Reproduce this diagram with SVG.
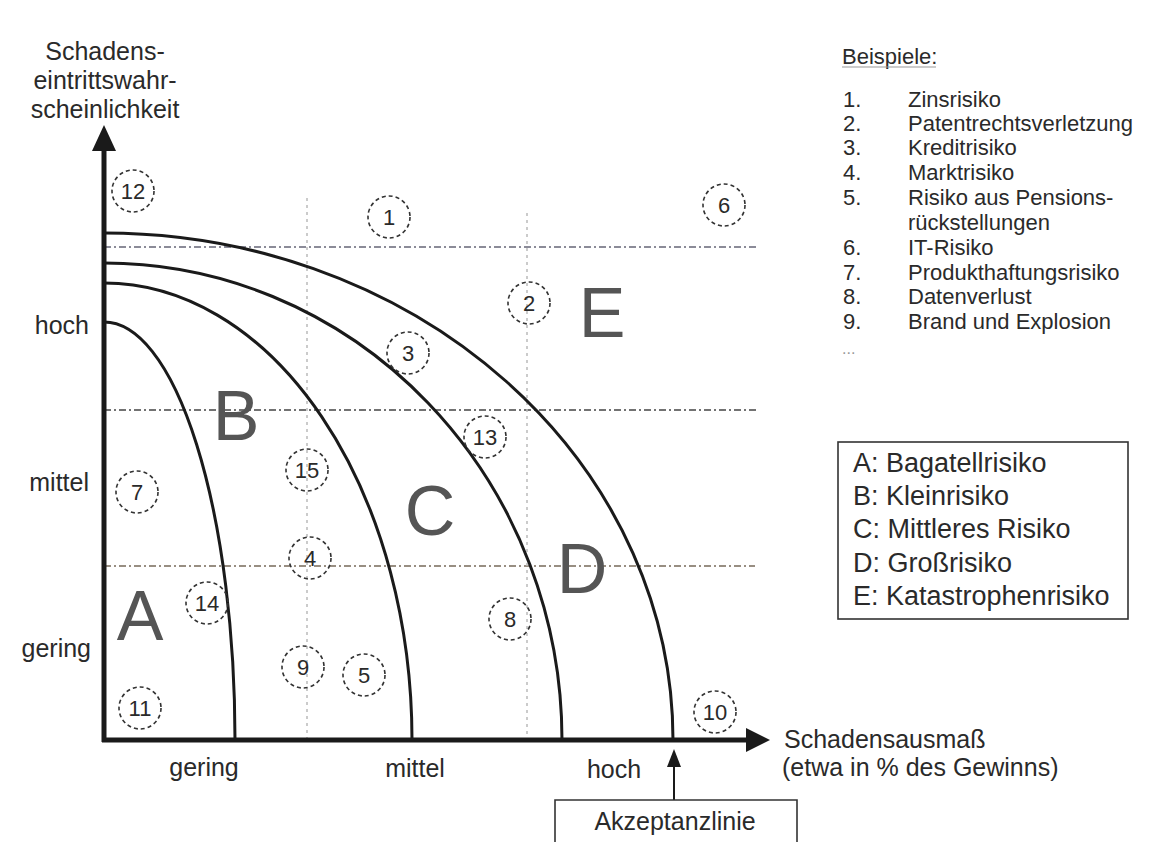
<svg xmlns="http://www.w3.org/2000/svg" width="1164" height="842" viewBox="0 0 1164 842">
<style>
text{font-family:"Liberation Sans",Arial,sans-serif;fill:#2a2a2a}
.lbl{font-size:25px}
.lst{font-size:22px}
.leg{font-size:27px}
.big{font-size:70px;fill:#555;text-anchor:middle}
.num{font-size:22px;text-anchor:middle}
.ring{fill:none;stroke:#333;stroke-width:1.6;stroke-dasharray:4 3}
.curve{fill:none;stroke:#1a1a1a;stroke-width:3}
.axis{stroke:#1a1a1a;stroke-width:5;fill:none}
.grid{stroke:#777;stroke-width:1.6;stroke-dasharray:7 3 2 3;fill:none}
.vgrid{stroke:#bbb;stroke-width:1.5;stroke-dasharray:3 4;fill:none}
</style>
<rect width="1164" height="842" fill="#fff"/>

<g id="grid">
<line class="grid" x1="104" y1="247" x2="757" y2="247" style="stroke:#667"/>
<line class="grid" x1="104" y1="410" x2="757" y2="410" style="stroke:#444"/>
<line class="grid" x1="104" y1="566" x2="755" y2="566" style="stroke:#776a5a"/>
<line class="vgrid" x1="307" y1="198" x2="307" y2="740"/>
<line class="vgrid" x1="527" y1="213" x2="527" y2="740"/>
</g>

<g id="curves">
<path class="curve" d="M104,322 A131,418 0 0 1 235,740"/>
<path class="curve" d="M104,283 A308,457 0 0 1 412,740"/>
<path class="curve" d="M104,263 A458,477 0 0 1 562,740"/>
<path class="curve" d="M104,233 A569,507 0 0 1 673,740"/>
</g>

<g id="connectors">
<line class="axis" x1="104" y1="742" x2="104" y2="150"/>
<path d="M104,125 L116,151 L92,151 Z" fill="#1a1a1a"/>
<line class="axis" x1="102" y1="740" x2="748" y2="740"/>
<path d="M770,740 L746,728 L746,752 Z" fill="#1a1a1a"/>
<line x1="674" y1="800" x2="674" y2="765" stroke="#1a1a1a" stroke-width="2"/>
<path d="M674,749 L681,767 L667,767 Z" fill="#1a1a1a"/>
</g>

<g id="ytitle">
<text class="lbl" x="105" y="60" text-anchor="middle">Schadens-</text>
<text class="lbl" x="105" y="89" text-anchor="middle">eintrittswahr-</text>
<text class="lbl" x="105" y="118" text-anchor="middle">scheinlichkeit</text>
</g>
<g id="ylabels">
<text class="lbl" x="89" y="334" text-anchor="end">hoch</text>
<text class="lbl" x="89" y="491" text-anchor="end">mittel</text>
<text class="lbl" x="91" y="657" text-anchor="end">gering</text>
</g>
<g id="xlabels">
<text class="lbl" x="204" y="776" text-anchor="middle">gering</text>
<text class="lbl" x="415" y="777" text-anchor="middle">mittel</text>
<text class="lbl" x="614" y="778" text-anchor="middle">hoch</text>
</g>
<g id="xtitle">
<text class="lbl" x="784" y="748">Schadensausmaß</text>
<text class="lbl" x="782" y="776">(etwa in % des Gewinns)</text>
</g>

<g id="zones">
<text class="big" x="140" y="640">A</text>
<text class="big" x="236" y="440">B</text>
<text class="big" x="430" y="535">C</text>
<text class="big" x="582" y="593">D</text>
<text class="big" x="602" y="337">E</text>
</g>

<g id="markers">
<g id="m12"><circle class="ring" cx="133" cy="191" r="21"/><text class="num" x="133" y="199">12</text></g>
<g id="m1"><circle class="ring" cx="389" cy="217" r="21"/><text class="num" x="389" y="225">1</text></g>
<g id="m6"><circle class="ring" cx="724" cy="205" r="21"/><text class="num" x="724" y="213">6</text></g>
<g id="m2"><circle class="ring" cx="529" cy="303" r="21"/><text class="num" x="529" y="311">2</text></g>
<g id="m3"><circle class="ring" cx="408" cy="353" r="21"/><text class="num" x="408" y="361">3</text></g>
<g id="m13"><circle class="ring" cx="485" cy="437" r="21"/><text class="num" x="485" y="445">13</text></g>
<g id="m15"><circle class="ring" cx="307" cy="470" r="21"/><text class="num" x="307" y="478">15</text></g>
<g id="m7"><circle class="ring" cx="137" cy="492" r="21"/><text class="num" x="137" y="500">7</text></g>
<g id="m4"><circle class="ring" cx="310" cy="558" r="21"/><text class="num" x="310" y="566">4</text></g>
<g id="m14"><circle class="ring" cx="207" cy="603" r="21"/><text class="num" x="207" y="611">14</text></g>
<g id="m8"><circle class="ring" cx="510" cy="619" r="21"/><text class="num" x="510" y="627">8</text></g>
<g id="m9"><circle class="ring" cx="303" cy="667" r="21"/><text class="num" x="303" y="675">9</text></g>
<g id="m5"><circle class="ring" cx="364" cy="675" r="21"/><text class="num" x="364" y="683">5</text></g>
<g id="m11"><circle class="ring" cx="140" cy="708" r="21"/><text class="num" x="140" y="716">11</text></g>
<g id="m10"><circle class="ring" cx="715" cy="712" r="21"/><text class="num" x="715" y="720">10</text></g>
</g>

<g id="examples">
<text class="lst" x="842" y="64">Beispiele:</text>
<line x1="842" y1="67" x2="936" y2="67" stroke="#999" stroke-width="1"/>
<text class="lst" x="843" y="107">1.</text><text class="lst" x="908" y="107">Zinsrisiko</text>
<text class="lst" x="843" y="131">2.</text><text class="lst" x="908" y="131">Patentrechtsverletzung</text>
<text class="lst" x="843" y="155">3.</text><text class="lst" x="908" y="155">Kreditrisiko</text>
<text class="lst" x="843" y="180">4.</text><text class="lst" x="908" y="180">Marktrisiko</text>
<text class="lst" x="843" y="205">5.</text><text class="lst" x="908" y="205">Risiko aus Pensions-</text>
<text class="lst" x="908" y="230">rückstellungen</text>
<text class="lst" x="843" y="255">6.</text><text class="lst" x="908" y="255">IT-Risiko</text>
<text class="lst" x="843" y="280">7.</text><text class="lst" x="908" y="280">Produkthaftungsrisiko</text>
<text class="lst" x="843" y="304">8.</text><text class="lst" x="908" y="304">Datenverlust</text>
<text class="lst" x="843" y="329">9.</text><text class="lst" x="908" y="329">Brand und Explosion</text>
<text class="lst" x="842" y="354" style="fill:#999;font-size:16px">...</text>
</g>

<g id="legend">
<rect x="838" y="442" width="290" height="177" fill="#fff" stroke="#333" stroke-width="1.6"/>
<text class="leg" x="853" y="472">A: Bagatellrisiko</text>
<text class="leg" x="853" y="505">B: Kleinrisiko</text>
<text class="leg" x="853" y="538">C: Mittleres Risiko</text>
<text class="leg" x="853" y="572">D: Großrisiko</text>
<text class="leg" x="853" y="605">E: Katastrophenrisiko</text>
</g>

<g id="akzeptanz">
<path d="M555,842 L555,800 L797,800 L797,842" fill="#fff" stroke="#333" stroke-width="1.6"/>
<text class="lbl" x="675" y="830" text-anchor="middle">Akzeptanzlinie</text>
</g>
</svg>
